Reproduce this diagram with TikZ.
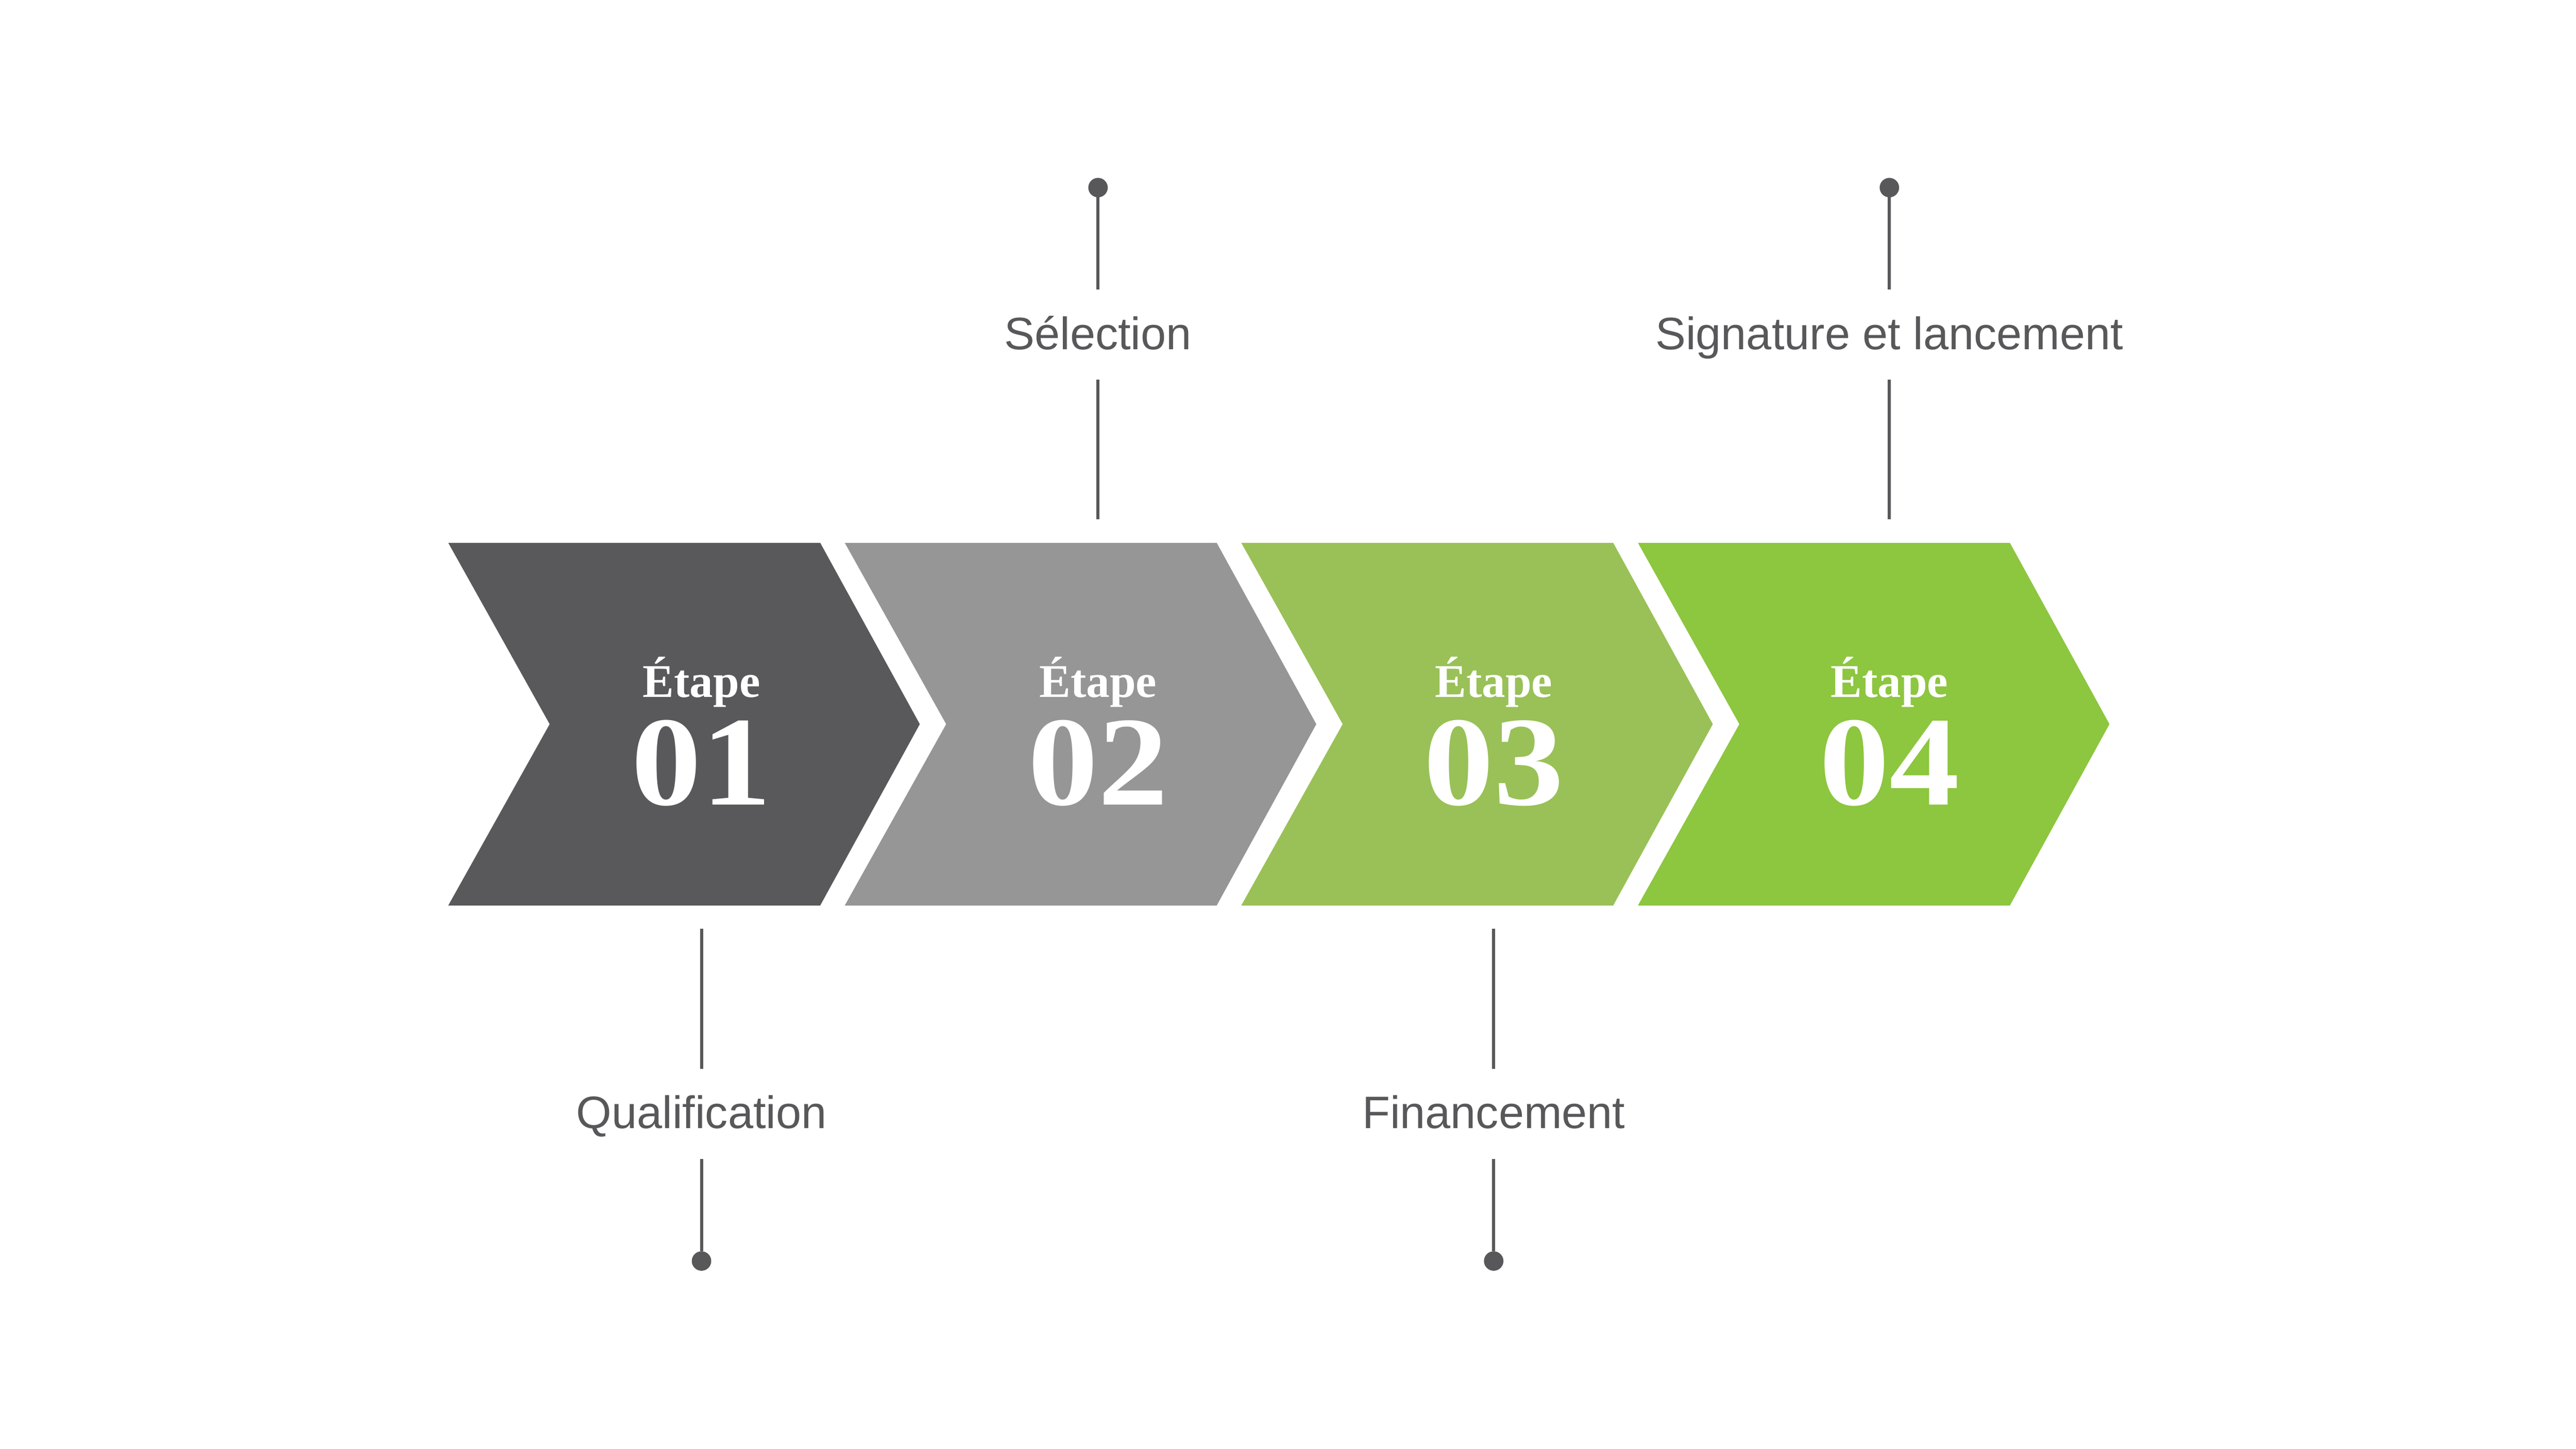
\documentclass[tikz,border=0pt]{standalone}
\usepackage{fontspec}
\newfontfamily\labfont{Liberation Sans}
\newfontfamily\etapefont{Liberation Serif}
\newfontfamily\numfont[FakeStretch=1.1]{Liberation Serif}
\definecolor{stepdark}{HTML}{59595B}
\definecolor{stepgray}{HTML}{959695}
\definecolor{steplight}{HTML}{99C157}
\definecolor{stepgreen}{HTML}{8DC63F}
\definecolor{leadgray}{HTML}{58585A}

\begin{document}
\begin{tikzpicture}[
	etape/.style={anchor=base,text=white,inner sep=0,font=\etapefont\bfseries\fontsize{8.1pt}{9pt}\selectfont},
	num/.style={anchor=base,text=white,inner sep=0,font=\numfont\bfseries\fontsize{22pt}{24pt}\selectfont},
	lab/.style={anchor=base,text=leadgray,inner sep=0,outer sep=0,text height=0.363cm,text depth=0.185cm,font=\labfont\fontsize{7.85pt}{9pt}\selectfont},
	dot/.style={circle,fill=leadgray,inner sep=0,outer sep=0,minimum size=0.118cm},
	lead/.style={draw=leadgray,line width=0.018cm}
]
	\useasboundingbox (0,0) rectangle (15.625,-8.789);
	% chevrons
	\fill[stepdark] (2.719,-3.293) -- ++(2.256,0) -- ++(0.604,-1.1) -- ++(-0.604,-1.1) -- ++(-2.256,0) -- ++(0.615,1.1) -- cycle;
	\fill[stepgray] (5.124,-3.293) -- ++(2.256,0) -- ++(0.604,-1.1) -- ++(-0.604,-1.1) -- ++(-2.256,0) -- ++(0.615,1.1) -- cycle;
	\fill[steplight] (7.529,-3.293) -- ++(2.256,0) -- ++(0.604,-1.1) -- ++(-0.604,-1.1) -- ++(-2.256,0) -- ++(0.615,1.1) -- cycle;
	\fill[stepgreen] (9.935,-3.293) -- ++(2.256,0) -- ++(0.604,-1.1) -- ++(-0.604,-1.1) -- ++(-2.256,0) -- ++(0.615,1.1) -- cycle;
	\node[etape] (etape1) at (4.255,-4.23) {Étape};
	\node[num] (num1) at (4.255,-4.882) {01};
	\node[etape] (etape2) at (6.66,-4.23) {Étape};
	\node[num] (num2) at (6.66,-4.882) {02};
	\node[etape] (etape3) at (9.06,-4.23) {Étape};
	\node[num] (num3) at (9.06,-4.882) {03};
	\node[etape] (etape4) at (11.46,-4.23) {Étape};
	\node[num] (num4) at (11.46,-4.882) {04};
	% leads
	\coordinate (qualtop) at (4.255,-5.635);
	\node[lab] (qual) at (4.255,-6.846) {Qualification};
	\node[dot] (qualdot) at (4.255,-7.65) {};
	\coordinate (selbot) at (6.66,-3.15);
	\node[lab] (sel) at (6.66,-2.119) {Sélection};
	\node[dot] (seldot) at (6.66,-1.138) {};
	\coordinate (fintop) at (9.06,-5.635);
	\node[lab] (fin) at (9.06,-6.846) {Financement};
	\node[dot] (findot) at (9.06,-7.65) {};
	\coordinate (sigbot) at (11.46,-3.15);
	\node[lab] (sig) at (11.46,-2.119) {Signature et lancement};
	\node[dot] (sigdot) at (11.46,-1.138) {};
	\draw[lead] (qualtop) -- (qual);
	\draw[lead] (qual) -- (qualdot);
	\draw[lead] (selbot) -- (sel);
	\draw[lead] (sel) -- (seldot);
	\draw[lead] (fintop) -- (fin);
	\draw[lead] (fin) -- (findot);
	\draw[lead] (sigbot) -- (sig);
	\draw[lead] (sig) -- (sigdot);
\end{tikzpicture}
\end{document}
